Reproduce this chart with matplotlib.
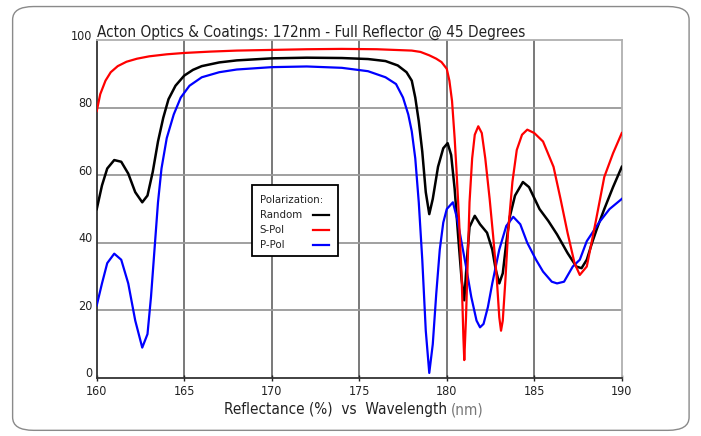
import matplotlib
matplotlib.use("Agg")
import matplotlib.pyplot as plt
import matplotlib.transforms as mtransforms
from matplotlib.patches import FancyBboxPatch, Rectangle

plt.rcParams['font.family'] = ['DejaVu Sans']
plt.rcParams['font.stretch'] = 'condensed'

# S-Pol (red)
s_wl = [160.0, 160.2, 160.5, 160.8, 161.2, 161.7, 162.3, 163.0, 164.0, 165.0,
        166.5, 168.0, 170.0, 172.0, 174.0, 176.0, 177.0, 178.0, 178.5, 179.0,
        179.4, 179.7, 180.0, 180.15, 180.3, 180.45, 180.55, 180.7, 180.85, 180.95,
        181.0, 181.1, 181.2, 181.3, 181.45, 181.6, 181.8, 182.0, 182.2, 182.45,
        182.65, 182.85, 183.0, 183.1, 183.2, 183.35, 183.5, 183.75, 184.0, 184.3,
        184.6, 185.0, 185.5, 186.1, 186.5, 186.9, 187.3, 187.6, 188.0, 188.5,
        189.0, 189.5, 190.0]
s_val = [79, 84, 88, 90.5, 92.3, 93.6, 94.5, 95.2, 95.8, 96.2,
         96.6, 96.9, 97.1, 97.3, 97.4, 97.3, 97.1, 96.9, 96.5, 95.5,
         94.5, 93.5, 91.5, 88, 82, 71, 62, 47, 30, 12,
         5.3, 18, 35, 52, 65, 72, 74.5, 72.5, 65, 53,
         42, 30, 18, 14, 17, 29, 43, 58, 67.5, 72,
         73.5, 72.5, 70, 62.5, 53, 43, 34, 30.5, 33, 46,
         59.5, 66.5, 72.5]

# Random (black)
r_wl = [160.0, 160.3, 160.6, 161.0, 161.4, 161.8, 162.2, 162.6, 162.9, 163.2,
        163.5, 163.8, 164.1, 164.5, 165.0, 165.5, 166.0, 167.0, 168.0, 170.0,
        172.0, 174.0, 175.5, 176.5, 177.2, 177.7, 178.0, 178.2, 178.4, 178.6,
        178.8, 179.0, 179.2, 179.5, 179.8, 180.05, 180.25, 180.45, 180.65, 180.85,
        181.0, 181.15, 181.3, 181.6, 181.9, 182.3, 182.6, 182.8, 183.0, 183.2,
        183.4, 183.6, 183.9, 184.35, 184.7, 185.3, 185.8, 186.3, 186.9, 187.4,
        187.7, 188.0, 188.3, 188.6, 189.0, 189.5, 190.0]
r_val = [50, 57, 62, 64.5, 64, 60.5, 55, 52, 54, 61,
         70, 77, 82.5, 86.5, 89.5, 91.2, 92.3, 93.4, 94, 94.6,
         94.8, 94.7, 94.4, 93.8, 92.5, 90.5, 88, 83, 76, 67,
         55, 48.5, 53, 62.5, 68, 69.5, 66, 56, 42, 29,
         23, 35, 44.7, 48, 45.5, 43, 38, 32, 28, 31,
         40, 47.7, 54, 58, 56.5, 50, 46.5, 42.5, 37, 33,
         32.5, 35, 40, 44.5, 50, 56.5, 62.5]

# P-Pol (blue)
p_wl = [160.0, 160.3, 160.6, 161.0, 161.4, 161.8, 162.2, 162.6, 162.9, 163.1,
        163.3, 163.5, 163.7, 164.0, 164.4, 164.8, 165.3, 166.0, 167.0, 168.0,
        170.0, 172.0, 174.0, 175.5, 176.5, 177.1, 177.5, 177.8, 178.0, 178.2,
        178.4, 178.6, 178.8, 179.0, 179.2, 179.4, 179.6, 179.8, 180.0, 180.35,
        180.6, 180.85, 181.1, 181.4, 181.7, 181.9, 182.1, 182.35, 182.6, 183.0,
        183.4, 183.8, 184.2, 184.6, 185.1, 185.5, 186.0, 186.3, 186.7, 187.2,
        187.6, 188.0, 188.7, 189.3, 190.0]
p_val = [21.5, 28, 34, 36.8, 35, 28, 17, 9, 13, 24,
         38, 52, 62, 71, 78, 83, 86.5, 89, 90.5, 91.3,
         92, 92.2, 91.8, 90.8, 89, 87, 83, 78, 73, 65,
         52, 35, 14, 1.5, 10, 25, 38, 46, 50, 52,
         47, 40, 33, 24, 17, 15, 16, 21, 28, 38,
         45, 47.7, 45.5, 40, 35, 31.5, 28.5, 28, 28.5, 33,
         35, 40.5, 46, 50, 53]

series_labels = ['Random', 'S-Pol', 'P-Pol']
series_colors = ['black', '#ff0000', '#0000ff']

x_ticks = [160, 165, 170, 175, 180, 185, 190]
y_ticks = [0, 20, 40, 60, 80, 100]

fig = plt.figure(figsize=(7.01, 4.36), dpi=100)
fig.patches.append(FancyBboxPatch((0.018, 0.013), 0.965, 0.972,
                                  boxstyle="round,pad=0,rounding_size=0.03",
                                  transform=fig.transFigure, fc='white',
                                  ec='#8a8a8a', lw=1.0, zorder=-1))

ax = fig.add_axes([0.138, 0.133, 0.749, 0.775])
ax.set_xlim(160, 190)
ax.set_ylim(0, 100)
ax.set_xticks(x_ticks)
ax.set_yticks(y_ticks)
ax.tick_params(axis='both', labelsize=9, colors='#222222', length=4,
               direction='inout', width=1, pad=3)
ax.tick_params(axis='y', length=0, pad=3)

# y labels sit a little above their grid lines in the original
shift_up = mtransforms.ScaledTranslation(0, 4 / 72, fig.dpi_scale_trans)
for lbl in ax.get_yticklabels():
    lbl.set_transform(lbl.get_transform() + shift_up)

for x in x_ticks[1:-1]:
    ax.axvline(x, color='#555555', lw=1.1, zorder=1)
for y in y_ticks[1:-1]:
    ax.axhline(y, color='#999999', lw=1.3, zorder=1)

for side in ['top', 'right']:
    ax.spines[side].set_color('#b0b0b0')
    ax.spines[side].set_linewidth(1.3)
for side in ['left', 'bottom']:
    ax.spines[side].set_color('#333333')
    ax.spines[side].set_linewidth(1.3)

ax.plot(r_wl, r_val, color=series_colors[0], lw=1.8, zorder=3)
ax.plot(s_wl, s_val, color=series_colors[1], lw=1.6, zorder=4)
ax.plot(p_wl, p_val, color=series_colors[2], lw=1.6, zorder=3)

ax.set_title('Acton Optics & Coatings: 172nm - Full Reflector @ 45 Degrees',
             loc='left', fontsize=11, color='#222222', pad=2)

# hand-made legend: labels on the left, line samples on the right
ax.add_patch(Rectangle((0.296, 0.362), 0.163, 0.21, transform=ax.transAxes,
                       fc='white', ec='black', lw=1.3, zorder=5))
ax.text(0.31, 0.527, 'Polarization:', transform=ax.transAxes, fontsize=8.2,
        va='center', color='#222222', zorder=6)
for i, (lab, col) in enumerate(zip(series_labels, series_colors)):
    yy = 0.481 - i * 0.043
    ax.text(0.31, yy, lab, transform=ax.transAxes, fontsize=8.2,
            va='center', color='#222222', zorder=6)
    ax.plot([0.411, 0.443], [yy, yy], transform=ax.transAxes, color=col,
            lw=1.6, zorder=6)

fig.text(0.638, 0.05, 'Reflectance (%)  vs  Wavelength', ha='right',
         fontsize=11, color='#222222')
fig.text(0.643, 0.05, '(nm)', ha='left', fontsize=11, color='#777777')

fig.savefig('out.png', dpi=100)
